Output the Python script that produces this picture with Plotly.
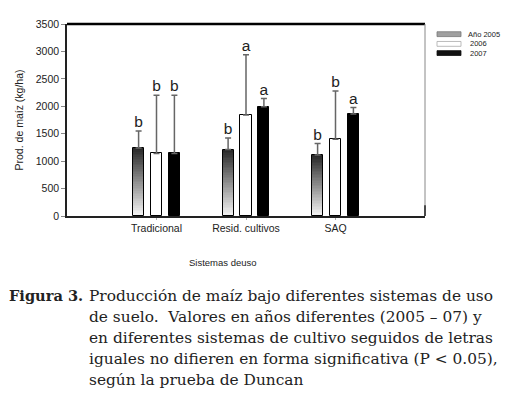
import plotly.graph_objects as go
import numpy as np

categories = ["Tradicional", "Resid. cultivos", "SAQ"]
years = ["Año 2005", "2006", "2007"]
y2005 = [1240, 1210, 1110]
y2006 = [1140, 1840, 1400]
y2007 = [1140, 1990, 1860]
top2005 = [1550, 1420, 1320]
top2006 = [2200, 2940, 2280]
top2007 = [2200, 2140, 1980]
let2005 = ["b", "b", "b"]
let2006 = ["b", "a", "b"]
let2007 = ["b", "a", "a"]
yticks = [0, 500, 1000, 1500, 2000, 2500, 3000, 3500]

# page has an 8px body margin; compensate so content lands at page coords
OFF = 8
W, H = 520 - OFF, 393 - OFF
PX0, PX1, PY0, PY1 = 67, 425, 18, 216   # plot area in page pixels
L, T = PX0 - OFF, PY0 - OFF
PW, PH = PX1 - PX0, PY1 - PY0
R, B = W - L - PW, H - T - PH

def px(x):
    return (x - PX0) / PW

def py(y):
    return (PY1 - y) / PH

idx = np.arange(len(categories))
bw = 0.125
offs = [-0.2, 0.0, 0.2]
series = [
    (y2005, top2005, let2005, None),
    (y2006, top2006, let2006, "white"),
    (y2007, top2007, let2007, "black"),
]

fig = go.Figure()
FONT = "Liberation Sans, Arial, sans-serif"

def lerp(c0, c1, t):
    return "rgb(%d,%d,%d)" % tuple(int(round(a + (b - a) * t)) for a, b in zip(c0, c1))

N = 40
for s, (vals, tops, lets, fill) in enumerate(series):
    xs = idx + offs[s]
    vals = np.array(vals, float)
    if fill is None:
        for k in range(N):
            t = (k + 0.5) / N
            fig.add_trace(go.Bar(
                x=xs, y=vals / N, base=vals * k / N, width=bw,
                marker=dict(color=lerp((248, 248, 248), (40, 40, 40), t), line=dict(width=0)),
                showlegend=False, hoverinfo="skip"))
        fillc = "rgba(0,0,0,0)"
    else:
        fillc = fill
    fig.add_trace(go.Bar(
        x=xs, y=vals, width=bw, name=years[s],
        marker=dict(color=fillc, line=dict(color="black", width=1)),
        error_y=dict(type="data", symmetric=False,
                     array=np.array(tops) - vals, arrayminus=[0] * len(vals),
                     color="#666666", thickness=1.5, width=3),
        showlegend=False))
    fig.add_trace(go.Scatter(
        x=xs, y=tops, mode="text", text=lets, textposition="top center",
        textfont=dict(family=FONT, size=15.5, color="#222"),
        showlegend=False, hoverinfo="skip"))

shapes = [
    dict(type="line", xref="paper", yref="paper", x0=0, x1=1, y0=1, y1=1,
         line=dict(color="black", width=2.5)),
    dict(type="line", xref="paper", yref="paper", x0=1, x1=1, y0=0, y1=1,
         line=dict(color="#888", width=1)),
    dict(type="line", xref="paper", yref="paper", x0=1, x1=1, y0=0, y1=py(205),
         line=dict(color="#222", width=1.5)),
]
annotations = []
# legend
leg_y = [(26, 31), (36, 41), (45.5, 50.5)]
leg_fill = ["#a0a0a0", "white", "#111"]
leg_line = ["#777", "#aaa", "#111"]
for i, (a, b) in enumerate(leg_y):
    shapes.append(dict(type="rect", xref="paper", yref="paper",
                       x0=px(437), x1=px(461), y0=py(b), y1=py(a),
                       fillcolor=leg_fill[i], line=dict(color=leg_line[i], width=0.8)))
    annotations.append(dict(xref="paper", yref="paper", x=px(466 if i == 0 else 468),
                            y=py((a + b) / 2), text=years[i], showarrow=False,
                            xanchor="left", yanchor="middle",
                            font=dict(family=FONT, size=7.5, color="#222")))

annotations.append(dict(xref="paper", yref="paper", x=px(223), y=py(264),
                        text="Sistemas deuso", showarrow=False,
                        xanchor="center", yanchor="middle",
                        font=dict(family=FONT, size=9.5, color="#222")))

SERIF = "DejaVu Serif, serif"
CS = 15.4
cap_lines = [
    "Producción de maíz bajo diferentes sistemas de uso",
    "de suelo.  Valores en años diferentes (2005 – 07) y",
    "en diferentes sistemas de cultivo seguidos de letras",
    "iguales no difieren en forma significativa (P < 0.05),",
    "según la prueba de Duncan",
]
cap_y = [298, 320, 342, 363.5, 385]
annotations.append(dict(xref="paper", yref="paper", x=px(7), y=py(cap_y[0]),
                        text="<b>Figura 3.</b>", showarrow=False,
                        xanchor="left", yanchor="middle",
                        font=dict(family=SERIF, size=14.6, color="#222")))
for i, line in enumerate(cap_lines):
    annotations.append(dict(xref="paper", yref="paper", x=px(87), y=py(cap_y[i]),
                            text=line, showarrow=False,
                            xanchor="left", yanchor="middle",
                            font=dict(family=SERIF, size=CS, color="#222")))

fig.update_layout(
    width=W, height=H, margin=dict(l=L, r=R, t=T, b=B, pad=0),
    paper_bgcolor="white", plot_bgcolor="white",
    barmode="overlay", bargap=0,
    shapes=shapes, annotations=annotations,
    xaxis=dict(range=[-1, 3], tickvals=idx, ticktext=categories,
               showline=True, linecolor="#222", linewidth=1.5,
               ticks="outside", ticklen=2, tickcolor="#aaa",
               showgrid=False, zeroline=False,
               tickfont=dict(family=FONT, size=10.5, color="#222")),
    yaxis=dict(range=[0, 3500], tickvals=yticks,
               showline=True, linecolor="#222", linewidth=1.5,
               ticks="outside", ticklen=4, tickcolor="#888",
               showgrid=False, zeroline=False,
               tickfont=dict(family=FONT, size=10.5, color="#222"),
               title=dict(text="Prod. de maíz (kg/ha)", standoff=10,
                          font=dict(family=FONT, size=10.5, color="#222"))),
    font=dict(family=FONT),
)

fig.write_html("out.html")
